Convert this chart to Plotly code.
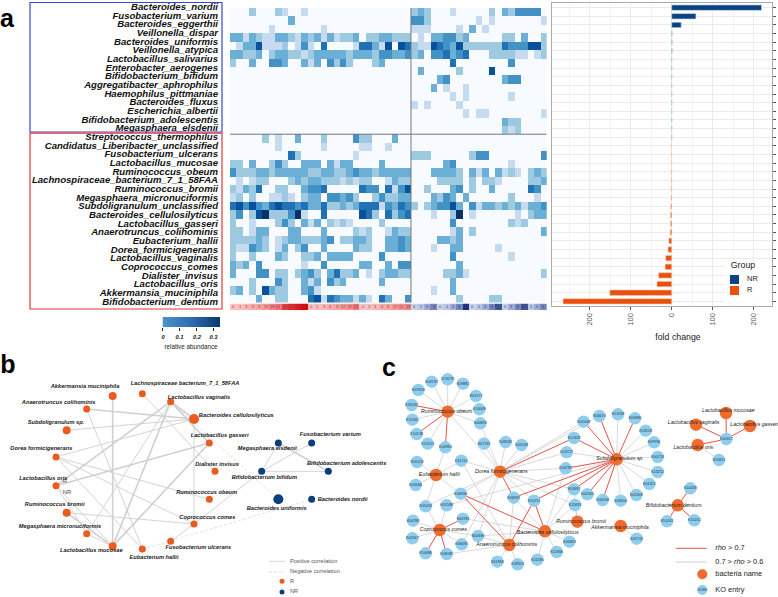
import plotly.graph_objects as go

W, H = 778, 597
FONT = "Liberation Sans"

# ---------- panel a data ----------
species = ["Bacteroides_nordii","Fusobacterium_varium","Bacteroides_eggerthii","Veillonella_dispar",
 "Bacteroides_uniformis","Veillonella_atypica","Lactobacillus_salivarius","Enterobacter_aerogenes",
 "Bifidobacterium_bifidum","Aggregatibacter_aphrophilus","Haemophilus_pittmaniae","Bacteroides_fluxus",
 "Escherichia_albertii","Bifidobacterium_adolescentis","Megasphaera_elsdenii","Streptococcus_thermophilus",
 "Candidatus_Liberibacter_unclassified","Fusobacterium_ulcerans","Lactobacillus_mucosae","Ruminococcus_obeum",
 "Lachnospiraceae_bacterium_7_1_58FAA","Ruminococcus_bromii","Megasphaera_micronuciformis",
 "Subdoligranulum_unclassified","Bacteroides_cellulosilyticus","Lactobacillus_gasseri","Anaerotruncus_colihominis",
 "Eubacterium_hallii","Dorea_formicigenerans","Lactobacillus_vaginalis","Coprococcus_comes","Dialister_invisus",
 "Lactobacillus_oris","Akkermansia_muciniphila","Bifidobacterium_dentium"]

# abundance, in steps of 0.05, of the non-zero samples per species (R samples)
abund_R = [
 {3:2,7:2,8:1,11:1},{9:3},{6:1,14:1},
 {0:3,1:3,2:1,3:3,4:2,5:1,6:1,7:3,8:3,9:2,10:1,11:3,12:2,13:3,14:1,15:3,16:1,17:2,18:2,19:3,21:2,22:2,23:3,24:3,25:2,26:2,27:2},
 {1:1,2:3,3:3,4:6,5:1,6:1,7:1,8:2,10:1,11:4,12:1,14:5,19:1,20:5,21:5,22:3,23:1,24:6,26:6,27:5},
 {0:3,1:3,2:2,3:2,4:3,6:2,7:3,8:3,9:2,10:2,11:1,12:2,13:3,14:3,15:3,16:3,17:3,18:2,19:3,20:3,21:3,22:2,23:4,24:4,25:3,26:3,27:4},
 {0:2,3:3,6:4,7:4,8:3,11:3,12:1,13:3,15:4,16:2,17:4,18:2,22:2,23:3},
 {},{},{},{},{},{},{},{},
 {5:2,7:1,10:3,14:2,19:4,20:2,21:2,25:3},{7:1,14:1,20:1,21:1,24:1},{9:5,10:2,19:1},
 {0:2,1:2,3:3,6:2,7:4,8:2,11:3,12:3,13:3,15:3,16:1,17:3,18:3,23:3},
 {0:4,1:2,2:2,3:2,4:3,5:3,6:2,7:3,8:3,9:3,10:3,11:3,12:2,13:2,14:3,15:3,16:2,17:2,18:3,19:4,20:3,21:3,22:2,23:3,24:3,25:3,26:3,27:3},
 {1:1,3:1,4:2,5:2,9:2,10:3,11:2,12:3,13:3,14:2,15:2,16:2,17:1,18:2,19:1,20:2,21:2,24:1,25:3,26:2,27:2},
 {0:2,1:1,2:3,3:2,4:5,7:2,8:2,11:3,12:4,13:4,14:5,20:5,21:4,22:4,24:5,25:1,26:4,27:6},
 {0:1,1:2,3:2,6:1,7:1,8:2,9:1,11:2,12:3,13:3,15:4,16:4,17:3,18:4,19:2,22:2,23:4,24:2,25:2,26:3,27:3},
 {0:5,1:6,2:4,3:6,4:4,5:3,6:5,7:6,8:5,9:5,10:4,11:5,12:3,13:3,14:5,15:2,16:2,17:3,18:2,19:3,20:5,21:5,22:5,23:1,24:4,25:3,26:5,27:4},
 {0:2,1:4,3:2,4:6,5:7,6:2,7:2,8:2,9:4,10:7,11:1,14:5,20:6,21:5,22:2,24:5,25:2,26:4,27:5},
 {0:2,3:1,7:2,8:4,9:2,11:3,12:1,13:3,15:2,16:1,17:2,18:1,23:2},
 {0:2,1:2,3:1,4:3,5:3,9:3,10:3,14:3,19:2,20:1,21:2,24:1,25:3,26:2,27:2},
 {0:2,1:2,2:2,3:2,4:3,5:2,7:1,8:2,9:3,10:3,11:2,12:2,13:2,14:3,15:4,17:2,18:2,19:3,20:3,21:2,24:3,25:3,26:4,27:3},
 {0:2,1:1,2:1,3:4,4:3,5:2,7:1,8:3,10:2,11:4,14:3,19:3,20:2,21:2,24:3,25:3,26:4,27:3},
 {0:2,3:2,7:3,8:2,11:2,12:2,13:3,15:3,16:3,17:3,18:3,23:4},
 {0:3,1:2,2:3,4:4,11:1,14:4,20:3,21:3,24:3,26:4,27:4},
 {0:3,4:4,5:4,7:2,8:2,10:2,11:3,12:4,13:2,15:3,16:5,17:2,18:2,19:3,21:1,23:2,24:3,25:3,26:2,27:2},
 {3:2,7:4,8:2,11:3,12:1,13:3,15:4,16:2,17:3,23:3},
 {0:2,1:3,3:2,5:6,6:3,7:2,8:2,11:3,12:4,13:1},
 {4:3,7:2,8:2,12:5,13:6,14:1,15:5,16:4,17:3,18:3,19:1,20:3,21:1,23:5,24:3,27:4},
]
# same for the NR samples
abund_NR = [
 {0:2,1:3,2:2,6:1,12:2,14:3,15:2,16:4,17:4,18:4,19:4},{0:4,1:4,2:2,10:1,12:1,20:1},{0:1,1:1,2:1,7:1,9:3,11:1},
 {1:1,3:3,4:3,5:4,6:4,7:2,8:3,14:2,15:2,17:3,20:2},
 {0:2,1:1,2:1,3:6,4:5,5:4,6:3,7:6,8:2,9:2,10:2,11:2,12:2,13:2,14:5,15:4,16:4,17:4,18:6,19:6,20:2},
 {0:2,1:3,3:4,4:4,5:5,6:3,7:4,8:5,12:2,13:2,14:2,15:2,16:1,17:1,19:1,20:2},
 {6:5,15:4},{1:3,7:2,12:6},{4:3,5:4,14:3,15:4,16:4},{3:3,5:1,8:1},{6:1,8:1,15:1},{0:1,2:1,7:1},
 {8:1,10:1,11:1,20:1},{14:3,15:2,16:2},{14:2,15:1,16:2},{},{},
 {0:2,1:2,2:2,9:2,10:4,11:4,20:4},{5:3,6:4,15:1},
 {3:3,4:3,5:3,6:3,7:2,9:3,10:1,11:3,13:3,14:1,15:2,16:1,18:2,19:3,20:2},
 {4:2,5:2,6:2,7:2,9:2,11:2,12:2,13:1,18:2,19:2,20:3},
 {2:2,6:3,7:4,9:2,12:3,18:5,19:4},{3:3,4:2,5:4,6:3,8:3,15:2,19:1},
 {0:2,2:2,3:3,4:4,5:4,6:6,7:3,9:4,10:1,11:3,12:3,13:2,14:3,15:2,16:3,17:1,18:3,19:3,20:4},
 {3:1,6:2,7:7,9:1,16:1,18:2,19:3,20:3},{6:4,15:2,16:1,17:2},{6:1,7:3,9:2,20:3},{4:3,5:3,6:2,7:3},
 {3:1,6:3,7:3,13:1},{6:4,15:1},{7:3},{5:2,6:2,7:3,8:1,20:2},{6:3},{3:1,6:3},{7:2,12:2,13:2},
]
n_R, n_NR = 28, 21
months_R = [0,1,3,6,9,12,18,21,30,33,36,39, 0,1,3,6,9,12,15,21, 0,1,3,6,9,12,15,18]
months_NR = [0,1,3,6, 0,1,3,6,11, 0,1,3,6,9, 0,3,6,9, 1,3,6]
heat_scale = [[0,"#f7fbff"],[1/7,"#c6dbef"],[2/7,"#9ecae1"],[3/7,"#6baed6"],[4/7,"#4292c6"],
              [5/7,"#2171b5"],[6/7,"#08519c"],[1,"#08306b"]]
cbar_ticks = [0,0.1,0.2,0.3]

fold_nr = [219,59,23,1,1,1,0.5,0.5,0.5,0.5,0.5,0.5,0.5,0.5,0.5,0.5]
fold_r = [-0.5,-0.5,-0.5,-1,-1,-1,-1.5,-2,-3,-3,-3.5,-7,-9,-14.5,-16,-32,-36,-151,-265]
fold_ticks = [-200,-100,0,100,200]
fold_text = ["200","100","0","100","200"]

# ---------- panel b data (positions) ----------
b_R = {"Akkermansia muciniphila":(338,153,8),"Lachnospiraceae bacterium_7_1_58FAA":(427,146,7),
 "Lactobacillus vaginalis":(512,170,7),"Bacteroides cellulosilyticus":(582,222,10),"Lactobacillus gasseri":(628,294,7),
 "Dialister invisus":(645,379,7),"Ruminococcus obeum":(628,463,7),"Coprococcus comes":(582,537,7),
 "Fusobacterium ulcerans":(512,589,7),"Eubacterium hallii":(427,612,7),"Lactobacillus mucosae":(338,604,8),
 "Megasphaera micronuciformis":(260,566,7),"Ruminococcus bromii":(200,503,8),"Lactobacillus oris":(168,422,7),
 "Dorea formicigenerans":(168,336,7),"Subdoligranulum sp.":(200,256,8),"Anaerotruncus colihominis":(260,192,7)}
b_NR = {"Megasphaera elsdenii":(835,294,7),"Fusobacterium varium":(935,294,7),"Bifidobacterium bifidum":(785,379,7),
 "Bifidobacterium adolescentis":(985,379,7),"Bacteroides uniformis":(835,463,10),"Bacteroides nordii":(935,463,7)}
b_label_xy = {"Akkermansia muciniphila":(255,125),"Lachnospiraceae bacterium_7_1_58FAA":(555,117),
 "Lactobacillus vaginalis":(597,157),"Bacteroides cellulosilyticus":(709,212),"Lactobacillus gasseri":(659,272),
 "Dialister invisus":(651,360),"Ruminococcus obeum":(620,443),"Coprococcus comes":(622,517),
 "Fusobacterium ulcerans":(595,607),"Eubacterium hallii":(462,639),"Lactobacillus mucosae":(274,616),
 "Megasphaera micronuciformis":(180,545),"Ruminococcus bromii":(164,478),"Lactobacillus oris":(130,401),
 "Dorea formicigenerans":(124,312),"Subdoligranulum sp.":(168,232),"Anaerotruncus colihominis":(176,172),
 "Megasphaera elsdenii":(802,312),"Fusobacterium varium":(991,268),"Bifidobacterium bifidum":(793,398),
 "Bifidobacterium adolescentis":(1040,356),"Bacteroides uniformis":(830,490),"Bacteroides nordii":(1028,463)}
A,L,V,C,G,D,O,CC = "Akkermansia muciniphila","Lachnospiraceae bacterium_7_1_58FAA","Lactobacillus vaginalis","Bacteroides cellulosilyticus","Lactobacillus gasseri","Dialister invisus","Ruminococcus obeum","Coprococcus comes"
FU,EH,LM,MM,RB,LO,DF,SS,AC = "Fusobacterium ulcerans","Eubacterium hallii","Lactobacillus mucosae","Megasphaera micronuciformis","Ruminococcus bromii","Lactobacillus oris","Dorea formicigenerans","Subdoligranulum sp.","Anaerotruncus colihominis"
ME,FV,BB,BA,BU,BN = "Megasphaera elsdenii","Fusobacterium varium","Bifidobacterium bifidum","Bifidobacterium adolescentis","Bacteroides uniformis","Bacteroides nordii"
b_edges_thick = [(A,LM),(V,C),(V,G),(LO,G),(V,LO),(V,LM),(ME,BA),(RB,LM),(LM,G),(AC,C)]
b_edges_thin = [(L,D),(V,MM),(C,CC),(AC,EH),(SS,C),(DF,C),(DF,CC),(DF,O),(DF,EH),(LO,LM),(RB,CC),(MM,LM),(CC,FU),(CC,BB),(BB,ME),(BB,FV),(BB,BA),(LO,MM)]
b_edges_neg = [(V,BU),(EH,BN)]

# ---------- panel c data (positions) ----------
c_bact_left = {"Ruminococcus obeum":(203,200),"Eubacterium hallii":(168,390),"Dorea formicigenerans":(360,380),
 "Coprococcus comes":(179,555),"Anaerotruncus colihominis":(388,600),"Bacteroides cellulosilyticus":(495,559)}
c_bact_right = {"Ruminococcus bromii":(22,530),"Akkermansia muciniphila":(152,543),"Subdoligranulum sp.":(140,343),
 "Bifidobacterium dentium":(323,481),"Lactobacillus mucosae":(468,204),"Lactobacillus vaginalis":(378,239),
 "Lactobacillus gasseri":(540,243),"Lactobacillus oris":(383,300)}
c_ko_left = {"K13279":(203,103),"K03197":(155,110),"K09882":(249,116),"K07916":(115,135),"K03717":(288,153),
 "K14048":(298,193),"K00839":(301,235),"K26192":(95,180),"K11065":(97,224),"K14138":(110,267),"K15023":(143,296),
 "K00980":(196,307),"K07192":(312,296),"K09592":(377,291),"K01509":(425,300),"K05119":(111,351),"K11214":(244,347),
 "K04566":(107,420),"K06906":(242,446),"K01459":(137,484),"K01588":(200,481),"K04789":(99,527),"K02347":(97,580),
 "K06783":(249,521),"K06691":(245,598),"K10686":(137,625),"K08081":(200,627),"K00696":(294,573),"K06937":(401,458),
 "K10212":(462,467),"K01968":(352,650),"K09313":(413,658),"K01586":(472,644),"K11946":(530,621),"K24787":(557,370),
 "K14727":(560,322)}
c_ko_right = {"K06369":(-2,590),"K01408":(41,230),"K04674":(88,213),"K13249":(144,208),"K09480":(195,220),"K13218":(227,257),
 "K09796":(252,292),"K00726":(263,336),"K13252":(263,381),"K01351":(238,417),"K01308":(199,450),"K03656":(152,467),
 "K06208":(98,465),"K01580":(52,448),"K03697":(12,433),"K11693":(15,480),"K12429":(12,279),"K01732":(200,581),
 "K10248":(361,430),"K10241":(291,529),"K10242":(373,526),"K00317":(469,282),"K10651":(447,345)}
c_label_left = {"Ruminococcus obeum":(200,200),"Eubacterium hallii":(178,388),"Dorea formicigenerans":(364,379),
 "Coprococcus comes":(190,554),"Anaerotruncus colihominis":(380,600),"Bacteroides cellulosilyticus":(503,562)}
c_label_right = {"Ruminococcus bromii":(33,530),"Akkermansia muciniphila":(150,547),"Subdoligranulum sp.":(150,342),
 "Bifidobacterium dentium":(311,481),"Lactobacillus mucosae":(475,198),"Lactobacillus vaginalis":(371,232),
 "Lactobacillus gasseri":(553,240),"Lactobacillus oris":(370,307)}
c_red = {O:["K26192","K14138","K00980"],DF:["K12429","K06937"],
 SS:["K01408","K04674","K09480","K06208","K01580","K03697","K12429","K24787","K06937","K10212"],
 "Coprococcus comes":["K06783","K10686","K08081"],AC:["K06906","K10212"],C:["K10212","K06906"],
 "Bifidobacterium dentium":["K10248","K10241","K10242"],LM:["K00317"],V:["K00317"],G:["K00317"],LO:["K00317"]}
c_grey = {O:["K13279","K03197","K09882","K07916","K03717","K14048","K00839","K11065","K15023",DF],
 EH:["K05119","K11214","K04566","K01459","K00980","K06906"],
 DF:["K00839","K07192","K09592","K01509","K01408","K04674","K14727","K24787","K10212","K00696","K06906","K06691","K11214","K03697","K01459","K11693"],
 SS:["K13249","K13218","K09796","K00726","K13252","K01351","K01308","K03656","K14727","K01588"],
 CC:["K01459","K01588","K04789","K02347","K06691","K00696"],
 AC:["K01968","K09313","K00696","K08081","K11214","K06937"],
 C:["K01586","K11946","K06369","K06937","K06783","K24787","K03697","K11693","K00696"],
 RB:["K11693","K03697"],A:["K01732"],LO:["K10651"]}

# ---------- helpers ----------
def dx(a,b): return [a/W,b/W]
def dy(t,b): return [1-b/H,1-t/H]
fig = go.Figure()
OV = dict(xaxis="x8",yaxis="y8",hoverinfo="skip",showlegend=False,cliponaxis=False)
def text(xs,ys,ts,size,color="#111",weight="normal",style="normal",pos="middle center"):
    fig.add_trace(go.Scatter(x=list(xs),y=list(ys),text=list(ts),mode="text",textposition=pos,
        textfont=dict(family=FONT,size=size,color=color,weight=weight,style=style),**OV))
def lines(pairs,color,width,dash="solid"):
    xs,ys=[],[]
    for p,q in pairs:
        xs+=[p[0],q[0],None]; ys+=[p[1],q[1],None]
    fig.add_trace(go.Scatter(x=xs,y=ys,mode="lines",line=dict(color=color,width=width,dash=dash),**OV))
def dots(pts,sizes,color):
    fig.add_trace(go.Scatter(x=[p[0] for p in pts],y=[p[1] for p in pts],mode="markers",
        marker=dict(color=color,size=sizes,opacity=1,line=dict(width=0)),**OV))

# ---------- heatmap ----------
zz=[[abund_R[r].get(c,0)*0.05 for c in range(n_R)]+[abund_NR[r].get(c,0)*0.05 for c in range(n_NR)] for r in range(35)]
fig.add_trace(go.Heatmap(z=zz,colorscale=heat_scale,zmin=0,zmax=0.35,showscale=False,xaxis="x",yaxis="y",hoverinfo="skip"))
# sampling-month strip
fig.add_trace(go.Heatmap(z=[months_R],x=list(range(n_R)),text=[months_R],texttemplate="%{text}",textfont=dict(size=4,color="#555",family=FONT),
    colorscale=[[0,"#ffc2c2"],[0.5,"#f77c7c"],[1,"#e40008"]],zmin=0,zmax=39,showscale=False,xaxis="x2",yaxis="y2",hoverinfo="skip"))
fig.add_trace(go.Heatmap(z=[months_NR],x=list(range(n_R,n_R+n_NR)),text=[months_NR],texttemplate="%{text}",textfont=dict(size=4,color="#445",family=FONT),
    colorscale=[[0,"#c8d2ec"],[0.5,"#7b8fc4"],[1,"#1a2f7c"]],zmin=0,zmax=11,showscale=False,xaxis="x2",yaxis="y2",hoverinfo="skip"))
# colour key
key_steps=[0,0.05,0.1,0.15,0.2,0.25,0.3,0.338]
fig.add_trace(go.Heatmap(z=[key_steps],x=key_steps,zsmooth="best",colorscale=[[0,"#4a93cc"],[0.5,"#2b6cb0"],[1,"#0b3672"]],showscale=False,
    xaxis="x3",yaxis="y3",hoverinfo="skip"))
# ---------- bars ----------
fig.add_trace(go.Bar(y=list(range(len(fold_nr))),x=fold_nr,orientation="h",width=0.62,name="NR",showlegend=False,
    marker=dict(color="#0b4380",line=dict(color="#b9d3ea",width=0.6)),xaxis="x4",yaxis="y4",hoverinfo="skip"))
fig.add_trace(go.Bar(y=list(range(len(fold_nr),35)),x=fold_r,orientation="h",width=0.62,name="R",showlegend=False,
    marker=dict(color="#ea4f0c",line=dict(color="#f8c8b0",width=0.6)),xaxis="x4",yaxis="y4",hoverinfo="skip"))

# ---------- overlay: labels of panel a ----------
lab_y=[7.7+8.66*i for i in range(35)]
text([218]*35,lab_y,species,9.6,"#111","bold","italic","middle left")
for t,x,y in [("a",7,21),("b",8,367),("c",389,370)]:
    text([x],[y],[t],25,"#000","bold")
text([163,179.5,197,213.5],[338]*4,["0","0.1","0.2","0.3"],5.8,"#111","bold","italic")
text([191],[347],["relative abundance"],6.3,"#222")
text([678],[338],["fold change"],8.8,"#222")
text([743],[266],["Group"],8.8,"#222")
text([747,747],[279.5,290.5],["NR","R"],7.5,"#222",pos="middle right")

# ---------- panel b ----------
bz=lambda p:(p[0]/3,345+p[1]/3)
bpos={k:bz(v) for k,v in {**b_R,**b_NR}.items()}
P=lambda pairs:[(bpos[a],bpos[b]) for a,b in pairs]
lines(P(b_edges_thin),"#d4d4d4",1.0)
lines(P(b_edges_thick),"#d0d0d0",1.6)
lines(P(b_edges_neg),"#d4d4d4",0.7,"3px,2px")
dots([bpos[k] for k in b_R],[b_R[k][2] for k in b_R],"#eb5a1e")
dots([bpos[k] for k in b_NR],[b_NR[k][2] for k in b_NR],"#0b3f7a")
lbl=[(k,bz(v)) for k,v in b_label_xy.items()]
text([p[1][0] for p in lbl],[p[1][1] for p in lbl],[p[0] for p in lbl],5.7,"#222","bold","italic")
text([65,67],[481,492],["R","NR"],6,"#555")
lines([((269,561.3),(285,561.3))],"#d4d4d4",1.0)
lines([((269,572),(285,572))],"#d4d4d4",0.7,"3px,2px")
dots([(282,581.3)],[5],"#eb5a1e"); dots([(282,592)],[5],"#0b3f7a")
text([290,290,290,290],[561.3,572,581.3,592],["Positive correlation","Negative correlation","R","NR"],5.6,"#555",pos="middle right")

# ---------- panel c ----------
zl=lambda p:(380+p[0]/3,345+p[1]/3)
zr=lambda p:(570+p[0]/3,345+p[1]/3)
cpos={k:zl(v) for k,v in {**c_bact_left,**c_ko_left}.items()}
cpos.update({k:zr(v) for k,v in {**c_bact_right,**c_ko_right}.items()})
lines([(cpos[a],cpos[b]) for a,bs in c_grey.items() for b in bs],"#cfcfcf",0.8)
lines([(cpos[a],cpos[b]) for a,bs in c_red.items() for b in bs],"#e8504a",1.0)
kos=list(c_ko_left)+list(c_ko_right)
bact=list(c_bact_left)+list(c_bact_right)
dots([cpos[k] for k in kos],[12.5]*len(kos),"#8ccdf0")
dots([cpos[k] for k in bact],[12.5]*len(bact),"#f26b2c")
text([cpos[k][0] for k in kos],[cpos[k][1] for k in kos],kos,3.7,"#333")
cl=[(k,zl(v)) for k,v in c_label_left.items()]+[(k,zr(v)) for k,v in c_label_right.items()]
text([p[1][0] for p in cl],[p[1][1] for p in cl],[p[0] for p in cl],5.2,"#222","normal","italic")
# legend of c
lines([((676,548.3),(706.7,548.3))],"#e8504a",1.0)
lines([((676,562),(706.7,562))],"#cfcfcf",1.0)
dots([(702.3,574.3)],[10],"#f26b2c"); dots([(702.3,590)],[10],"#8ccdf0")
text([702.3],[590],["K01869"],2.8,"#333")
text([715.3]*4,[548.3,562.3,574.3,590],["<i>rho</i> > 0.7","0.7 > <i>rho</i> > 0.6","bacteria name","KO entry"],7.4,"#222",pos="middle right")

# ---------- shapes ----------
shapes=[
 dict(type="rect",xref="x8",yref="y8",x0=30,x1=222,y0=2.5,y1=132,line=dict(color="#3a45d8",width=1.2)),
 dict(type="rect",xref="x8",yref="y8",x0=30,x1=222,y0=133.2,y1=309,line=dict(color="#e0383c",width=1.2)),
 dict(type="line",xref="x",yref="y",x0=27.5,x1=27.5,y0=-0.5,y1=34.5,line=dict(color="#777",width=1)),
 dict(type="line",xref="x",yref="y",x0=-0.5,x1=48.5,y0=14.5,y1=14.5,line=dict(color="#777",width=1)),
 dict(type="rect",xref="x4",yref="y4",x0=130,x1=240,y0=29.4,y1=34.2,fillcolor="white",line_width=0,layer="between"),
 dict(type="rect",xref="x8",yref="y8",x0=730,x1=739,y0=275,y1=284,fillcolor="#0b4380",line_width=0),
 dict(type="rect",xref="x8",yref="y8",x0=730,x1=739,y0=286,y1=295,fillcolor="#ea4f0c",line_width=0),
]
hide=dict(visible=False)
fig.update_layout(
 width=W,height=H,margin=dict(l=0,r=0,t=0,b=0),paper_bgcolor="white",plot_bgcolor="rgba(0,0,0,0)",
 showlegend=False,shapes=shapes,barmode="overlay",font=dict(family=FONT),
 xaxis=dict(domain=dx(230,546.7),range=[-0.5,48.5],**hide),
 yaxis=dict(domain=dy(8,302.5),range=[34.5,-0.5],anchor="x",**hide),
 xaxis2=dict(domain=dx(230,546.7),range=[-0.5,48.5],anchor="y2",**hide),
 yaxis2=dict(domain=dy(303.5,310),range=[-0.5,0.5],anchor="x2",**hide),
 xaxis3=dict(domain=dx(162.5,220),range=[0,0.338],anchor="y3",tickvals=cbar_ticks,ticks="outside",ticklen=3,tickcolor="#222",
             showticklabels=False,showgrid=False,zeroline=False,showline=False),
 yaxis3=dict(domain=dy(317,327),anchor="x3",**hide),
 xaxis4=dict(domain=dx(552,772),range=[-292,244.6],anchor="y4",tickvals=fold_ticks,ticktext=fold_text,tickangle=-90,
             ticks="outside",ticklen=3,tickcolor="#555",tickfont=dict(size=7.5,color="#555",family=FONT),
             showgrid=True,gridcolor="#ebebeb",gridwidth=0.8,zeroline=False,showline=True,mirror=True,linecolor="#aaa",linewidth=1.2,
             minor=dict(dtick=50,showgrid=True,gridcolor="#f3f3f3",gridwidth=0.6,tick0=0)),
 yaxis4=dict(domain=dy(3,306),range=[34.54,-0.54],anchor="x4",side="right",tickmode="linear",tick0=0,dtick=1,
             ticks="outside",ticklen=3,tickcolor="#555",showticklabels=False,showgrid=True,gridcolor="#ebebeb",gridwidth=0.8,
             zeroline=False,showline=True,mirror=True,linecolor="#aaa",linewidth=1.2),
 xaxis8=dict(domain=[0,1],range=[0,W],anchor="y8",**hide),
 yaxis8=dict(domain=[0,1],range=[H,0],anchor="x8",**hide),
)
fig.write_html("out.html",config={"displayModeBar":False},post_script="document.body.style.margin='0';document.body.style.overflow='hidden';")
